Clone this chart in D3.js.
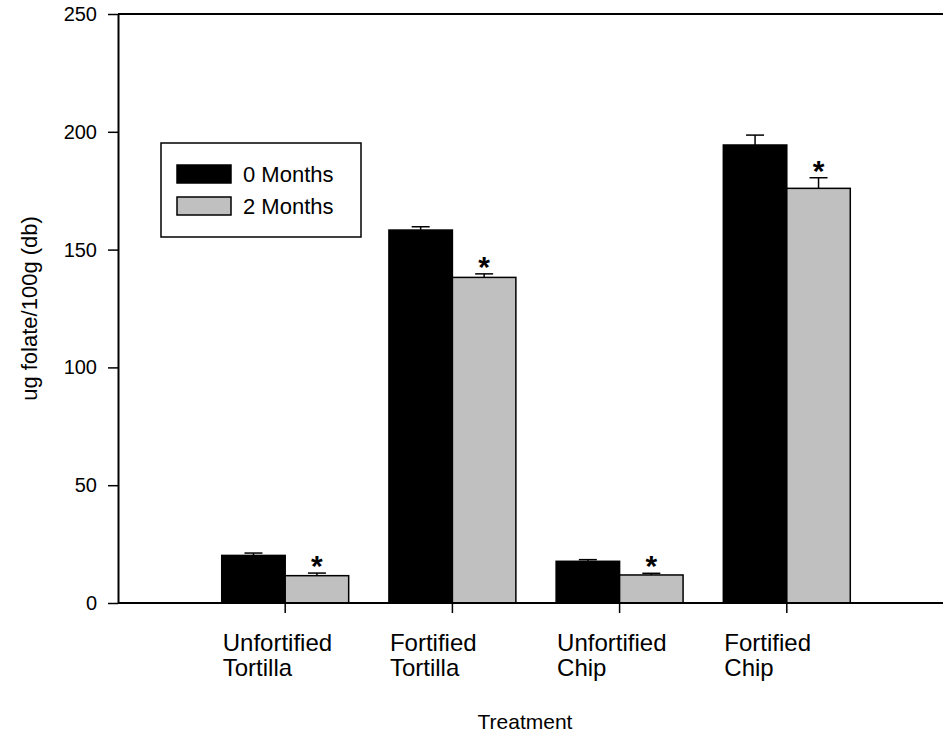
<!DOCTYPE html>
<html>
<head>
<meta charset="utf-8">
<script src="https://cdn.jsdelivr.net/npm/d3@7"></script>
<style>
  body { margin: 0; background: #fff; }
  text { font-family: Arial, "Liberation Sans", sans-serif; fill: #000; }
</style>
</head>
<body>
<svg id="chart" width="943" height="742"></svg>
<script>
// data
const categories = ["Unfortified Tortilla", "Fortified Tortilla", "Unfortified Chip", "Fortified Chip"];
const series = ["0 Months", "2 Months"];
const month0 = [20.2, 158.3, 17.7, 194.4];
const month0Err = [1.0, 1.4, 0.7, 4.2];
const month2 = [11.6, 138.2, 11.9, 176.0];
const month2Err = [1.1, 1.5, 0.7, 4.5];
const significant = [true, true, true, true]; // asterisks on 2 months bars
const yTicks = [0, 50, 100, 150, 200, 250];

const svg = d3.select("#chart");
const plotLeft = 118, plotRight = 954, plotTop = 14, plotBottom = 603;
const colors = { "0 Months": "#000000", "2 Months": "#c0c0c0" };

const y = d3.scaleLinear().domain([0, 250]).range([plotBottom, plotTop]);
// the categories sit at slots 1..4 of a 5-slot axis
const slot = (plotRight - plotLeft) / 5;
const x0 = d3.scaleBand()
  .domain(categories)
  .range([plotLeft + slot / 2, plotRight - slot / 2])
  .paddingInner(0);
const x1 = d3.scaleBand()
  .domain(series)
  .range([0, x0.bandwidth()])
  .paddingInner(0)
  .paddingOuter(0.317);

const rows = [];
categories.forEach((c, i) => {
  rows.push({ cat: c, s: series[0], v: month0[i], e: month0Err[i], star: false });
  rows.push({ cat: c, s: series[1], v: month2[i], e: month2Err[i], star: significant[i] });
});
const cx = d => x0(d.cat) + x1(d.s) + x1.bandwidth() / 2;

// bars
svg.append("g")
  .selectAll("rect")
  .data(rows)
  .join("rect")
  .attr("x", d => x0(d.cat) + x1(d.s))
  .attr("y", d => y(d.v))
  .attr("width", x1.bandwidth())
  .attr("height", d => y(0) - y(d.v))
  .attr("fill", d => colors[d.s])
  .attr("stroke", "#000")
  .attr("stroke-width", 1.5);

// error bars (upper only)
const err = svg.append("g").attr("stroke", "#000").attr("stroke-width", 1.5);
err.selectAll("line.v")
  .data(rows)
  .join("line")
  .attr("class", "v")
  .attr("x1", cx)
  .attr("x2", cx)
  .attr("y1", d => y(d.v))
  .attr("y2", d => y(d.v + d.e));
err.selectAll("line.cap")
  .data(rows)
  .join("line")
  .attr("class", "cap")
  .attr("x1", d => cx(d) - 9)
  .attr("x2", d => cx(d) + 9)
  .attr("y1", d => y(d.v + d.e))
  .attr("y2", d => y(d.v + d.e));

// asterisks
svg.append("g")
  .selectAll("text")
  .data(rows.filter(d => d.star))
  .join("text")
  .attr("x", cx)
  .attr("y", d => y(d.v + d.e) + 3)
  .attr("text-anchor", "middle")
  .style("font-size", "30px")
  .style("font-weight", "bold")
  .text("*");

// frame: top line and right side (offscreen)
svg.append("path")
  .attr("d", `M${plotLeft},${plotTop}H${plotRight}V${plotBottom}`)
  .attr("fill", "none")
  .attr("stroke", "#000")
  .attr("stroke-width", 2);

// y axis
const yAxis = svg.append("g")
  .attr("transform", `translate(${plotLeft},0)`)
  .call(d3.axisLeft(y).tickValues(yTicks).tickSize(10).tickPadding(11).tickSizeOuter(0));
yAxis.select(".domain").attr("stroke-width", 2);
yAxis.selectAll(".tick line").attr("stroke-width", 1.5);
yAxis.selectAll("text").style("font-size", "20px").style("font-family", "Arial, 'Liberation Sans', sans-serif");

// x axis
const xAxis = svg.append("g")
  .attr("transform", `translate(0,${plotBottom})`)
  .call(d3.axisBottom(x0).tickSize(10).tickSizeOuter(0).tickFormat(""));
xAxis.select(".domain").attr("d", `M${plotLeft},0H${plotRight}`).attr("stroke-width", 2);
xAxis.selectAll(".tick line").attr("stroke-width", 1.5);

// category labels, two lines, left aligned at the bar start
const catLabels = svg.append("g")
  .selectAll("text")
  .data(categories)
  .join("text")
  .attr("x", d => x0(d) + x1(series[0]) + 1)
  .attr("y", 651)
  .style("font-size", "24px");
catLabels.selectAll("tspan")
  .data(d => d.split(" "))
  .join("tspan")
  .attr("x", function () { return d3.select(this.parentNode).attr("x"); })
  .attr("dy", (d, i) => (i === 0 ? 0 : 25))
  .text(d => d);

// axis titles
svg.append("text")
  .attr("x", 525)
  .attr("y", 729)
  .attr("text-anchor", "middle")
  .style("font-size", "21px")
  .text("Treatment");

svg.append("text")
  .attr("transform", `translate(37,${(plotTop + plotBottom) / 2}) rotate(-90)`)
  .attr("text-anchor", "middle")
  .style("font-size", "22px")
  .text("ug folate/100g (db)");

// legend
const legend = svg.append("g");
legend.append("rect")
  .attr("x", 161).attr("y", 143).attr("width", 200).attr("height", 94)
  .attr("fill", "#fff").attr("stroke", "#000").attr("stroke-width", 1.5);
const li = legend.selectAll("g.item")
  .data(series)
  .join("g")
  .attr("class", "item")
  .attr("transform", (d, i) => `translate(177,${165 + i * 32})`);
li.append("rect")
  .attr("width", 54).attr("height", 18)
  .attr("fill", d => colors[d])
  .attr("stroke", "#000").attr("stroke-width", 1.5);
li.append("text")
  .attr("x", 66).attr("y", 17)
  .style("font-size", "22px")
  .text(d => d);
</script>
</body>
</html>
